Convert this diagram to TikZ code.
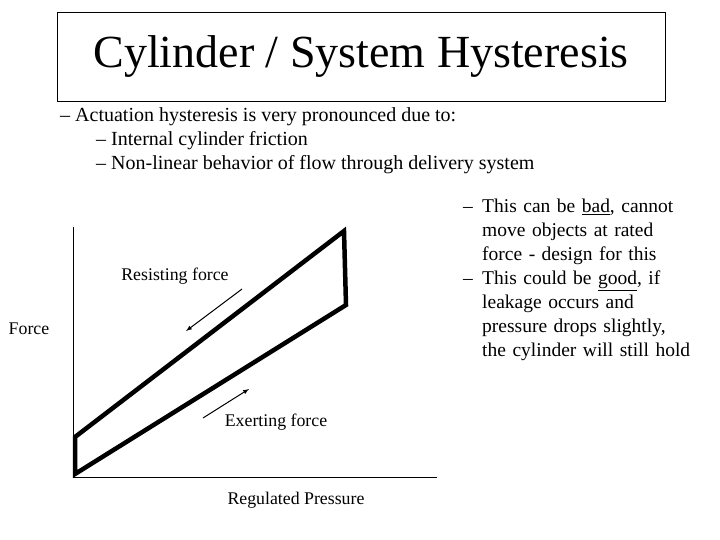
\documentclass[tikz,border=0pt]{standalone}
\usepackage{fontspec}
\setmainfont{Liberation Serif}
\begin{document}
\begin{tikzpicture}[x=1pt,y=-1pt,
  loop/.style={line width=4.5pt,line join=miter},
  ax/.style={line width=1pt},
  arr/.style={line width=1pt,-latex},
  lbl/.style={font=\fontsize{17.8}{20}\selectfont,inner sep=0pt},
  txt/.style={font=\fontsize{20}{24}\selectfont,inner sep=0pt,anchor=north west,align=left}]
\useasboundingbox (0,0) rectangle (720,540);
\node[draw,line width=0.8pt,minimum width=608pt,minimum height=89pt,inner sep=0pt,font=\fontsize{46}{50}\selectfont] (title) at (361,56.5) {Cylinder / System Hysteresis};
\node[txt] (b1) at (60,107) {-- Actuation hysteresis is very pronounced due to:};
\node[txt] (b2) at (96,131) {-- Internal cylinder friction};
\node[txt] (b3) at (96,155) {-- Non-linear behavior of flow through delivery system};
\node[txt,font=\fontsize{19.5}{24}\selectfont,text width=250pt] (r1) at (463,199) {\makebox[19pt][l]{--}This can be \underline{bad}, cannot\\\hspace*{19pt}move objects at rated\\\hspace*{19pt}force - design for this\\\makebox[19pt][l]{--}This could be \underline{good}, if\\\hspace*{19pt}leakage occurs and\\\hspace*{19pt}pressure drops slightly,\\\hspace*{19pt}the cylinder will still hold};
\coordinate (o) at (73,477);
\coordinate (yt) at (73,227);
\coordinate (xe) at (437,477);
\draw[ax] (yt) -- (o) -- (xe);
\coordinate (p1) at (75,437);
\coordinate (p2) at (344,231);
\coordinate (p3) at (346,305);
\coordinate (p4) at (75,474);
\draw[loop] (p1) -- (p2) -- (p3) -- (p4) -- cycle;
\coordinate (ra) at (242,289); \coordinate (rb) at (186,331);
\draw[arr] (ra) -- (rb);
\coordinate (ea) at (203,418); \coordinate (eb) at (249,389);
\draw[arr] (ea) -- (eb);
\node[lbl] (res) at (175,276) {Resisting force};
\node[lbl] (ext) at (276,422) {Exerting force};
\node[lbl] (force) at (29,329) {Force};
\node[lbl] (rp) at (296,500) {Regulated Pressure};
\end{tikzpicture}
\end{document}
